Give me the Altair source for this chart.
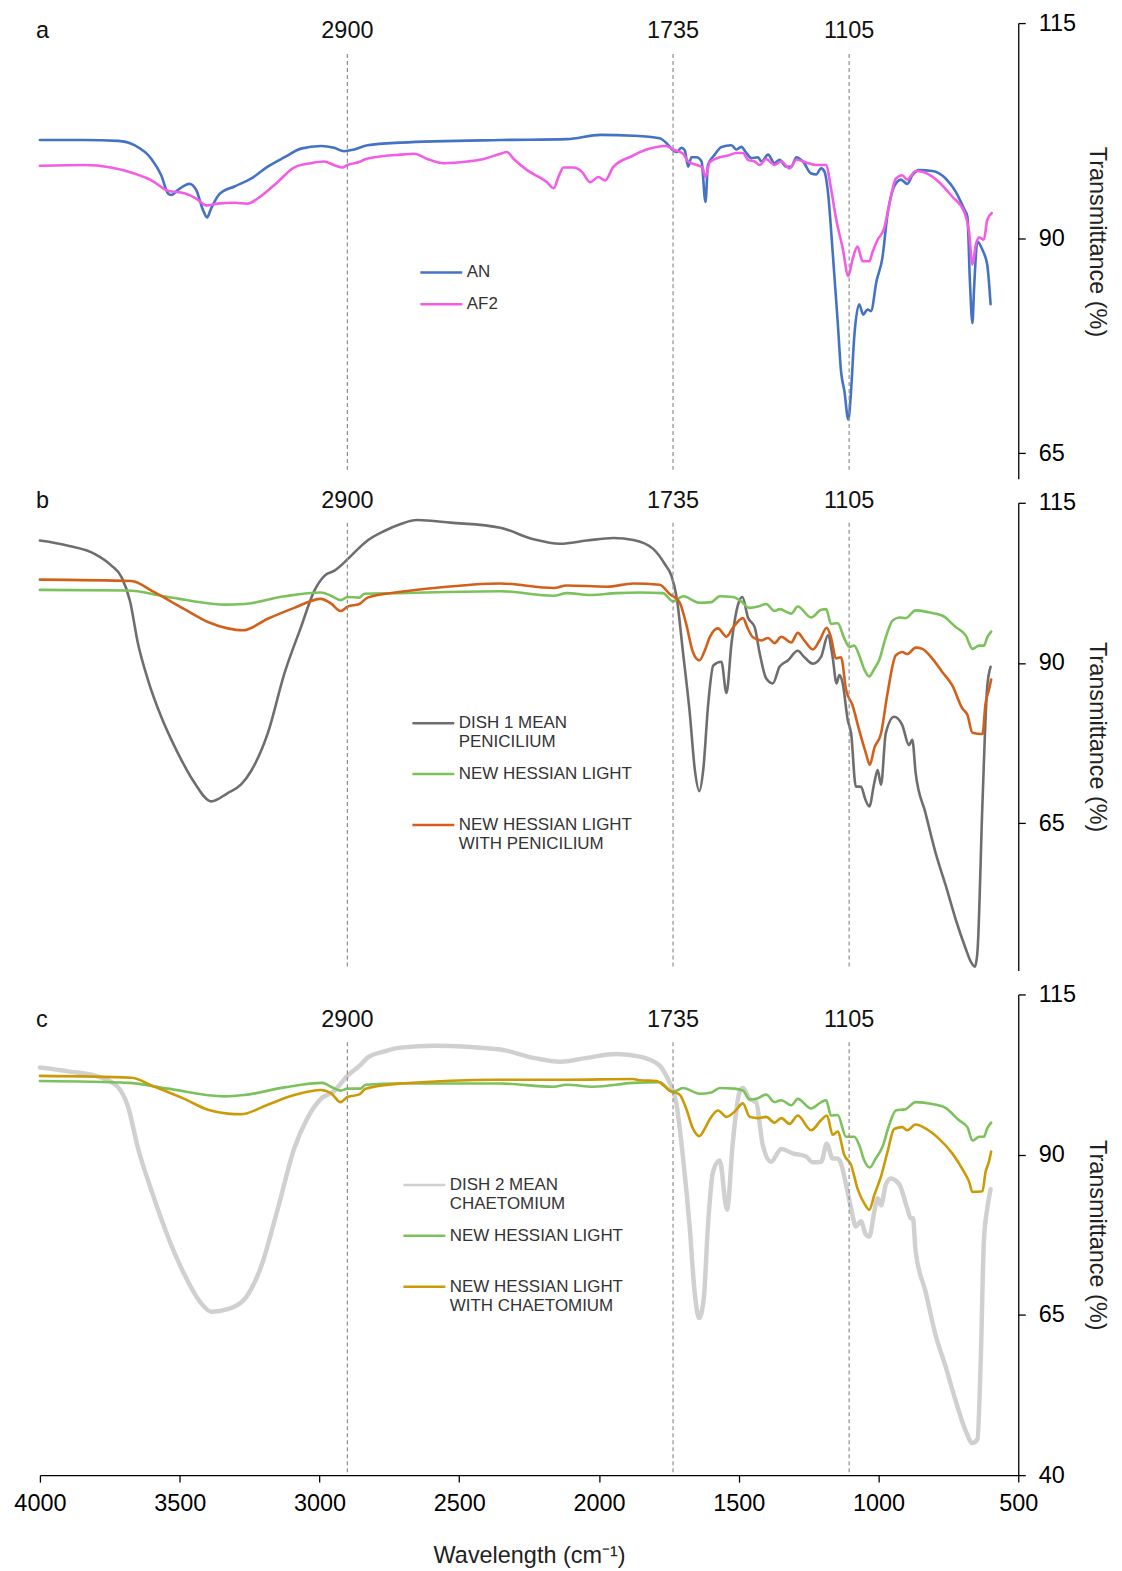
import altair as alt
import pandas as pd

FONT = "Liberation Sans"
PEAKS = [2900, 1735, 1105]
X_TICKS = [4000, 3500, 3000, 2500, 2000, 1500, 1000, 500]

# ---------------- panel a ----------------
A_NAMES = ["AN", "AF2"]
A_COLORS = ["#4472C4", "#F25CE6"]
A_AN_WN = [4000, 3840, 3720, 3662, 3601, 3566, 3542, 3530, 3506, 3465, 3441, 3417, 3402, 3388, 3358, 3304, 3245, 3185, 3125, 3066, 2995, 2948, 2912, 2876, 2828, 2710, 2351, 2114, 1995, 1877, 1783, 1746, 1735, 1722, 1705, 1693, 1681, 1669, 1651, 1633, 1619, 1610, 1586, 1562, 1526, 1509, 1491, 1473, 1455, 1431, 1419, 1395, 1372, 1354, 1330, 1312, 1294, 1270, 1241, 1223, 1205, 1193, 1181, 1164, 1146, 1134, 1122, 1108, 1099, 1087, 1069, 1055, 1039, 1027, 1007, 986, 968, 944, 920, 897, 879, 855, 807, 759, 724, 694, 682, 673, 664, 658, 646, 628, 611, 599]
A_AN_T = [101.4, 101.4, 101.3, 100.8, 99.2, 97.3, 95.2, 95.0, 95.6, 96.3, 95.6, 93.3, 92.4, 93.4, 95.1, 96.0, 96.9, 98.3, 99.4, 100.4, 100.7, 100.5, 100.1, 100.3, 100.8, 101.1, 101.4, 101.5, 102.0, 101.9, 101.6, 100.6, 100.2, 100.0, 100.5, 100.2, 98.3, 99.4, 99.4, 98.9, 94.2, 98.5, 99.7, 100.6, 100.8, 100.3, 100.6, 99.9, 99.3, 99.4, 98.9, 99.7, 98.7, 99.1, 98.3, 98.3, 99.4, 98.9, 97.5, 97.4, 98.1, 97.7, 95.4, 88.4, 80.3, 74.5, 72.2, 68.9, 71.8, 78.4, 82.3, 81.1, 81.7, 81.5, 85.0, 87.7, 92.7, 96.0, 96.8, 96.3, 97.3, 97.9, 97.8, 96.9, 95.4, 93.4, 92.5, 85.0, 80.1, 84.2, 89.6, 88.6, 86.9, 82.3]
A_AF2_WN = [4000, 3840, 3662, 3601, 3542, 3483, 3441, 3405, 3364, 3304, 3257, 3221, 3150, 3091, 3031, 2984, 2948, 2918, 2900, 2853, 2834, 2710, 2661, 2614, 2555, 2471, 2412, 2353, 2329, 2305, 2257, 2186, 2162, 2145, 2127, 2091, 2061, 2032, 2002, 1978, 1948, 1877, 1854, 1794, 1760, 1735, 1699, 1681, 1651, 1630, 1619, 1604, 1568, 1538, 1509, 1485, 1467, 1443, 1425, 1402, 1372, 1348, 1318, 1294, 1259, 1223, 1188, 1170, 1152, 1128, 1108, 1093, 1075, 1057, 1033, 1021, 1003, 980, 962, 938, 915, 897, 867, 843, 783, 736, 694, 676, 664, 652, 640, 623, 611, 595]
A_AF2_T = [98.4, 98.5, 97.5, 96.7, 95.5, 95.2, 94.6, 93.8, 94.0, 94.1, 94.0, 94.6, 96.5, 98.2, 98.7, 98.9, 98.5, 98.2, 98.5, 98.9, 99.2, 99.7, 99.8, 99.2, 98.7, 98.9, 99.2, 99.8, 100.0, 99.2, 97.9, 96.5, 95.8, 97.1, 98.2, 98.2, 97.7, 96.5, 97.1, 96.7, 98.3, 99.6, 100.0, 100.6, 100.7, 100.3, 99.8, 98.9, 98.5, 98.2, 97.1, 98.8, 99.4, 99.6, 99.9, 99.9, 99.1, 98.9, 98.5, 99.2, 98.5, 98.9, 98.1, 99.1, 98.8, 98.5, 98.5, 95.8, 92.3, 88.8, 85.6, 87.5, 89.0, 87.3, 87.3, 88.4, 89.8, 91.1, 93.8, 96.9, 97.3, 96.8, 97.8, 97.7, 96.5, 94.8, 93.1, 90.7, 86.9, 89.2, 90.1, 89.8, 92.1, 92.9]

# ---------------- panel b ----------------
B_NAMES = ["DISH 1 MEAN|PENICILIUM", "NEW HESSIAN LIGHT|", "NEW HESSIAN LIGHT|WITH PENICILIUM"]
B_COLORS = ["#6F6D6D", "#7CC25C", "#D2601A"]
B_DISH_WN = [4000, 3899, 3803, 3744, 3708, 3678, 3649, 3613, 3566, 3506, 3447, 3387, 3328, 3281, 3245, 3185, 3125, 3066, 3018, 2982, 2946, 2899, 2857, 2828, 2768, 2709, 2650, 2531, 2353, 2234, 2139, 2044, 1948, 1877, 1806, 1764, 1740, 1722, 1699, 1675, 1657, 1641, 1627, 1609, 1591, 1562, 1544, 1526, 1502, 1487, 1467, 1443, 1425, 1402, 1378, 1354, 1324, 1289, 1265, 1235, 1205, 1181, 1164, 1150, 1140, 1128, 1110, 1098, 1081, 1063, 1047, 1033, 1015, 1003, 991, 974, 944, 915, 891, 879, 867, 832, 796, 759, 724, 688, 670, 655, 646, 628, 611, 599]
B_DISH_T = [109.1, 108.3, 107.0, 105.2, 103.4, 99.7, 93.0, 87.3, 81.6, 75.9, 71.3, 68.4, 69.7, 71.0, 73.1, 79.0, 88.4, 95.6, 101.3, 103.6, 104.4, 106.2, 108.0, 109.1, 110.6, 111.7, 112.3, 111.9, 111.1, 109.3, 108.6, 109.1, 109.5, 109.2, 107.8, 105.4, 103.5, 100.2, 91.5, 82.1, 73.3, 70.0, 73.3, 83.7, 89.6, 90.2, 85.3, 93.0, 99.2, 100.3, 97.1, 95.6, 91.5, 87.6, 86.8, 89.4, 90.4, 91.9, 90.9, 89.9, 91.0, 94.3, 90.9, 86.8, 88.1, 86.8, 81.1, 79.0, 70.7, 70.7, 68.7, 67.6, 71.3, 73.3, 71.0, 79.0, 81.6, 80.3, 77.2, 78.0, 72.8, 66.6, 60.4, 55.2, 50.0, 45.4, 43.4, 42.6, 44.9, 68.2, 86.3, 89.4]
B_NHL_WN = [4000, 3685, 3566, 3447, 3340, 3269, 3125, 2995, 2959, 2924, 2899, 2857, 2839, 2709, 2353, 2162, 2115, 2032, 1937, 1854, 1771, 1735, 1699, 1640, 1598, 1568, 1521, 1491, 1461, 1431, 1402, 1372, 1354, 1312, 1289, 1241, 1205, 1187, 1170, 1146, 1122, 1104, 1087, 1069, 1051, 1033, 1015, 998, 974, 950, 926, 903, 867, 820, 772, 724, 688, 664, 640, 623, 611, 597]
B_NHL_T = [101.4, 101.3, 100.5, 99.6, 99.1, 99.2, 100.4, 101.0, 100.5, 99.8, 100.3, 100.2, 100.8, 100.9, 101.2, 100.5, 100.9, 100.6, 100.9, 101.0, 100.9, 99.6, 100.4, 99.4, 99.5, 100.4, 100.3, 99.6, 98.6, 98.8, 99.2, 98.1, 98.4, 97.7, 98.8, 97.1, 98.3, 98.4, 96.1, 96.2, 93.8, 92.5, 92.7, 91.2, 89.0, 87.9, 89.1, 90.4, 94.0, 96.6, 97.1, 97.0, 98.2, 97.9, 97.4, 95.6, 94.3, 92.2, 92.7, 92.7, 94.0, 94.9]
B_PEN_WN = [4000, 3672, 3601, 3483, 3399, 3328, 3274, 3185, 3090, 2995, 2959, 2924, 2899, 2857, 2828, 2709, 2590, 2353, 2162, 2115, 1972, 1877, 1783, 1748, 1712, 1688, 1664, 1641, 1621, 1604, 1574, 1544, 1521, 1485, 1467, 1449, 1419, 1395, 1372, 1348, 1312, 1289, 1265, 1235, 1211, 1185, 1170, 1152, 1134, 1116, 1093, 1069, 1045, 1031, 1015, 991, 968, 938, 915, 897, 867, 843, 808, 772, 736, 700, 682, 664, 628, 617, 605, 597]
B_PEN_T = [103.0, 102.8, 101.3, 98.4, 96.4, 95.4, 95.1, 96.9, 98.6, 100.0, 99.3, 98.1, 98.8, 99.2, 100.2, 101.1, 101.7, 102.4, 101.7, 102.1, 101.9, 102.4, 102.2, 100.8, 99.5, 96.1, 91.7, 90.4, 92.0, 94.0, 95.4, 94.1, 95.5, 97.0, 95.3, 94.0, 93.5, 93.9, 93.1, 94.1, 93.2, 94.7, 93.5, 92.1, 93.5, 95.5, 94.0, 90.7, 90.9, 85.8, 83.4, 79.5, 75.9, 74.1, 76.7, 79.0, 85.2, 91.2, 91.7, 91.4, 92.4, 92.2, 90.7, 88.6, 86.5, 82.9, 81.9, 79.1, 78.9, 83.7, 85.8, 87.4]

# ---------------- panel c ----------------
C_NAMES = ["DISH 2 MEAN|CHAETOMIUM", "NEW HESSIAN LIGHT|", "NEW HESSIAN LIGHT|WITH CHAETOMIUM"]
C_COLORS = ["#D0D0D0", "#7CC25C", "#CC9A06"]
C_DISH_WN = [4000, 3899, 3780, 3720, 3685, 3649, 3601, 3542, 3483, 3423, 3387, 3328, 3269, 3209, 3150, 3090, 3043, 2995, 2948, 2900, 2853, 2829, 2769, 2710, 2590, 2353, 2234, 2139, 2044, 1937, 1854, 1795, 1783, 1759, 1748, 1724, 1699, 1676, 1658, 1642, 1625, 1610, 1592, 1568, 1542, 1521, 1497, 1485, 1461, 1438, 1414, 1384, 1348, 1307, 1259, 1235, 1205, 1185, 1164, 1146, 1134, 1116, 1098, 1081, 1063, 1045, 1033, 1015, 1003, 991, 974, 956, 926, 897, 885, 877, 867, 832, 796, 759, 724, 688, 664, 646, 634, 623, 611, 599]
C_DISH_T = [103.6, 103.0, 102.0, 100.5, 97.5, 91.0, 84.4, 77.2, 71.3, 66.8, 65.5, 65.9, 67.4, 72.5, 81.4, 91.0, 95.7, 98.7, 99.9, 102.3, 104.0, 105.1, 106.1, 106.7, 107.0, 106.4, 105.1, 104.5, 105.1, 105.7, 105.3, 104.3, 103.9, 102.3, 101.3, 98.2, 89.4, 79.0, 68.7, 64.5, 67.6, 79.0, 87.3, 89.1, 81.4, 92.0, 99.8, 100.4, 98.7, 98.2, 91.5, 88.9, 90.9, 90.2, 89.7, 88.8, 88.9, 91.7, 89.4, 89.4, 88.6, 85.3, 81.6, 78.8, 79.6, 77.5, 77.2, 81.1, 83.2, 82.1, 85.3, 86.3, 85.4, 81.6, 80.1, 80.1, 74.9, 68.7, 61.9, 56.8, 51.6, 46.9, 45.0, 45.6, 58.3, 76.5, 81.6, 84.6]
C_NHL_WN = [4000, 3685, 3542, 3340, 3269, 3125, 2989, 2959, 2924, 2900, 2853, 2835, 2710, 2353, 2163, 2115, 2020, 1877, 1783, 1735, 1699, 1640, 1598, 1568, 1515, 1485, 1461, 1431, 1402, 1372, 1348, 1312, 1289, 1241, 1205, 1187, 1170, 1146, 1116, 1087, 1069, 1051, 1031, 1010, 986, 962, 938, 903, 867, 808, 760, 713, 682, 664, 640, 623, 611, 597]
C_NHL_T = [101.5, 101.2, 100.3, 99.1, 99.3, 100.5, 101.2, 100.6, 100.0, 100.3, 100.3, 100.9, 101.1, 101.1, 100.6, 100.9, 100.6, 101.2, 101.3, 99.8, 100.4, 99.5, 99.7, 100.4, 100.3, 100.0, 98.6, 98.8, 99.4, 98.2, 98.5, 97.7, 98.7, 97.2, 98.2, 98.5, 96.1, 96.2, 92.8, 92.8, 91.5, 89.1, 88.0, 89.4, 91.2, 94.6, 96.9, 97.1, 98.2, 97.9, 97.3, 95.4, 94.3, 92.2, 92.8, 92.8, 94.1, 95.0]
C_CHA_WN = [4000, 3672, 3601, 3483, 3399, 3328, 3281, 3185, 3090, 2995, 2959, 2924, 2900, 2857, 2835, 2710, 2353, 2115, 1877, 1854, 1795, 1783, 1748, 1712, 1688, 1664, 1641, 1621, 1604, 1574, 1544, 1515, 1485, 1461, 1431, 1402, 1372, 1348, 1318, 1289, 1241, 1205, 1184, 1164, 1146, 1122, 1098, 1075, 1051, 1033, 1015, 991, 968, 944, 915, 897, 867, 832, 784, 736, 694, 676, 664, 628, 617, 605, 597]
C_CHA_T = [102.3, 102.0, 100.8, 98.7, 97.0, 96.4, 96.3, 97.8, 99.3, 100.1, 99.6, 98.2, 99.0, 99.4, 100.3, 101.1, 101.7, 101.7, 101.8, 101.6, 101.5, 101.3, 100.0, 99.4, 97.2, 94.1, 92.9, 94.1, 95.5, 96.9, 95.9, 96.7, 98.0, 95.9, 95.7, 95.9, 95.0, 95.7, 94.8, 96.1, 93.8, 95.4, 96.1, 93.1, 93.6, 89.9, 88.4, 84.7, 82.4, 81.4, 83.7, 86.6, 90.4, 94.0, 94.3, 93.8, 94.7, 94.1, 92.5, 90.2, 87.3, 85.8, 84.2, 84.3, 87.3, 88.9, 90.5]

W = 981
FS = 23.5


def frame(name, wn, t):
    return pd.DataFrame({"wn": wn, "t": t, "series": name})


def xenc(show):
    scale = alt.Scale(domain=[4000, 500], nice=False, zero=False)
    if show:
        axis = alt.Axis(values=X_TICKS, title="Wavelength (cm⁻¹)", labelPadding=9,
                        titlePadding=29, tickSize=7, format="d", labelFlush=False)
        return alt.X("wn:Q", scale=scale, axis=axis)
    return alt.X("wn:Q", scale=scale, axis=None)


def panel(letter, series, names, colors, widths, ymin, yticks, h, label_y,
          rule_top, rule_bottom, legend_x, legend_y, row_pad, show_x, title_y=None):
    yscale = alt.Scale(domain=[ymin, 115], nice=False, zero=False)
    axis_kw = dict(orient="right", values=yticks, title="Transmittance (%)",
                   labelPadding=13, titlePadding=9, tickSize=7, labelFlush=False)
    if title_y is not None:
        axis_kw["titleY"] = title_y
    yaxis = alt.Axis(**axis_kw)
    legend = alt.Legend(orient="none", legendX=legend_x, legendY=legend_y, title=None,
                        symbolType="stroke", symbolSize=42 * 42, symbolStrokeWidth=2.5,
                        clipHeight=20, rowPadding=row_pad, labelFontSize=17,
                        labelLimit=400, labelOffset=3, labelColor="#333333",
                        labelExpr="split(datum.label, '|')", padding=0)
    color = alt.Color("series:N", scale=alt.Scale(domain=names, range=colors), legend=legend)
    layers = []
    for (name, wn, t), w in zip(series, widths):
        layers.append(
            alt.Chart(frame(name, wn, t))
            .mark_line(strokeWidth=w, strokeJoin="round", strokeCap="round", interpolate="monotone")
            .encode(x=xenc(show_x), y=alt.Y("t:Q", scale=yscale, axis=yaxis), color=color)
        )
    peaks_df = pd.DataFrame({"wn": PEAKS, "label": [str(p) for p in PEAKS]})
    rules = alt.Chart(peaks_df).mark_rule(color="#8f8f8f", strokeDash=[4, 3], strokeWidth=1.2).encode(
        x=xenc(show_x), y=alt.value(rule_top), y2=alt.value(rule_bottom))
    texts = alt.Chart(peaks_df).mark_text(fontSize=FS, color="#111111").encode(
        x=xenc(show_x), y=alt.value(label_y), text="label:N")
    letter_df = pd.DataFrame({"letter": [letter]})
    let = alt.Chart(letter_df).mark_text(fontSize=FS, align="left", color="#111111").encode(
        x=alt.value(-4), y=alt.value(label_y), text="letter:N")
    return alt.layer(*layers, rules, texts, let).properties(width=W, height=h)


pa = panel("a",
           [("AN", A_AN_WN, A_AN_T), ("AF2", A_AF2_WN, A_AF2_T)],
           A_NAMES, A_COLORS, [2.6, 2.6], 62, [65, 90, 115], 457,
           8, 31, 451, 380, 240, 12, False, title_y=219)
pb = panel("b",
           [(B_NAMES[0], B_DISH_WN, B_DISH_T), (B_NAMES[1], B_NHL_WN, B_NHL_T),
            (B_NAMES[2], B_PEN_WN, B_PEN_T)],
           B_NAMES, B_COLORS, [2.6, 2.6, 2.6], 42, [65, 90, 115], 469,
           -2, 20, 468, 372, 211, 14, False)
pc = panel("c",
           [(C_NAMES[0], C_DISH_WN, C_DISH_T), (C_NAMES[1], C_NHL_WN, C_NHL_T),
            (C_NAMES[2], C_CHA_WN, C_CHA_T)],
           C_NAMES, C_COLORS, [4.5, 2.6, 2.6], 40, [40, 65, 90, 115], 482,
           26, 48, 482, 363, 181, 14, True)

chart = (
    alt.vconcat(pa, pb, pc, spacing=24, bounds="flush")
    .resolve_scale(x="independent", y="independent", color="independent")
    .resolve_legend(color="independent")
    .configure(font=FONT, padding={"top": 1, "left": 5, "right": 5, "bottom": 0})
    .configure_view(strokeWidth=0)
    .configure_axis(grid=False, domainColor="black", tickColor="black", labelColor="black",
                    titleColor="#222222", labelFontSize=FS, titleFontSize=FS,
                    titleFontWeight="normal", domainWidth=1.3, tickWidth=1.3,
                    labelFont=FONT, titleFont=FONT)
    .configure_legend(labelFont=FONT)
    .configure_text(font=FONT)
)

chart.save("out.html", embed_options={"renderer": "svg", "actions": False})
